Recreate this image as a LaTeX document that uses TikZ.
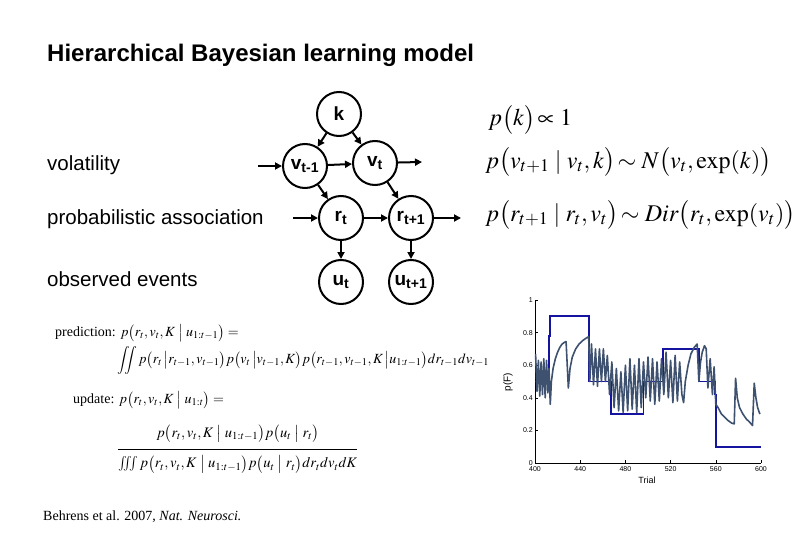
\documentclass[tikz,border=0pt]{standalone}
\usepackage{amsmath}
\usepackage{mathptmx}
\usepackage[no-math]{fontspec}
\setmainfont{Liberation Serif}
\newfontfamily\arialf{Liberation Sans}
\usetikzlibrary{arrows.meta}
\definecolor{stepblue}{RGB}{20,20,160}
\definecolor{estgray}{RGB}{62,82,112}
\begin{document}
\begin{tikzpicture}[x=1pt,y=-1pt,
  gnode/.style={circle,draw,line width=2pt,minimum size=44pt,inner sep=0pt,font=\arialf\bfseries\fontsize{19}{22}\selectfont},
  arr/.style={line width=2pt,-{Triangle[length=7pt,width=7pt]}},
  rowlabel/.style={anchor=base west,font=\arialf\fontsize{20.5}{24}\selectfont,inner sep=0pt},
  bigeq/.style={anchor=west,inner sep=0pt,font=\fontsize{24}{29}\selectfont},
  smalleq/.style={anchor=west,inner sep=0pt,font=\fontsize{14}{17}\selectfont},
  ticklab/.style={font=\arialf\fontsize{7}{8}\selectfont,inner sep=1pt}]
\useasboundingbox (0,0) rectangle (810,540);
\fill[white] (0,0) rectangle (810,540);

% title
\node[anchor=base west,inner sep=0pt,font=\arialf\bfseries\fontsize{24}{28}\selectfont] (title) at (47,62) {Hierarchical Bayesian learning model};

% row labels
\node[rowlabel] (lvol) at (47,171) {volatility};
\node[rowlabel] (lprob) at (47,224) {probabilistic association};
\node[rowlabel] (lobs) at (47,286) {observed events};

% graph nodes
\node[gnode] (k) at (339,114) {k};
\node[gnode] (v1) at (305,166) {v\textsubscript{t-1}};
\node[gnode] (v2) at (375,163) {v\textsubscript{t}};
\node[gnode] (r1) at (341,218) {r\textsubscript{t}};
\node[gnode] (r2) at (411,218) {r\textsubscript{t+1}};
\node[gnode] (u1) at (341,282) {u\textsubscript{t}};
\node[gnode] (u2) at (411,282) {u\textsubscript{t+1}};
\coordinate (vin) at (258,166);
\coordinate (vout) at (422,162);
\coordinate (rin) at (293,218);
\coordinate (rout) at (461,218);

\draw[arr] (k) -- (v1);
\draw[arr] (k) -- (v2);
\draw[arr] (vin) -- (v1);
\draw[arr] (v1) -- (v2);
\draw[arr] (v2) -- (vout);
\draw[arr] (v1) -- (r1);
\draw[arr] (v2) -- (r2);
\draw[arr] (rin) -- (r1);
\draw[arr] (r1) -- (r2);
\draw[arr] (r2) -- (rout);
\draw[arr] (r1) -- (u1);
\draw[arr] (r2) -- (u2);

% right equations
\node[bigeq] (e1) at (488,120) {$p\bigl(k\bigr)\!\propto 1$};
\node[bigeq] (e2) at (485,162) {$p\bigl(v_{t+1}\mid v_t, k\bigr)\!\sim N\bigl(v_t, \exp(k)\bigr)$};
\node[bigeq] (e3) at (485,215) {$p\bigl(r_{t+1}\mid r_t, v_t\bigr)\!\sim \mathit{Dir}\bigl(r_t, \exp(v_t)\bigr)$};

% lower equations
\node[smalleq] (pred) at (55,333) {prediction: $p\bigl(r_t, v_t, K \bigm| u_{1:t-1}\bigr)=$};
\node[smalleq] (predint) at (117,360) {$\displaystyle\iint p\bigl(r_t \,\big| r_{t-1}, v_{t-1}\bigr) p\bigl(v_t \,\big| v_{t-1}, K\bigr) p\bigl(r_{t-1}, v_{t-1}, K \,\big| u_{1:t-1}\bigr) dr_{t-1} dv_{t-1}$};
\node[smalleq] (upd) at (73,400) {update: $p\bigl(r_t, v_t, K \bigm| u_{1:t}\bigr)=$};
\node[smalleq,font=\fontsize{14.6}{18}\selectfont] (updfrac) at (117,449) {$\displaystyle\frac{p\bigl(r_t, v_t, K \bigm| u_{1:t-1}\bigr) p\bigl(u_t \bigm| r_t\bigr)\vphantom{\Big|}}{\iiint p\bigl(r_t, v_t, K \bigm| u_{1:t-1}\bigr) p\bigl(u_t \bigm| r_t\bigr) dr_t dv_t dK\vphantom{\Big|}}$};

% citation
\node[anchor=base west,inner sep=0pt,font=\fontsize{14}{16}\selectfont] (cite) at (43,520) {Behrens et al. 2007, \textit{Nat. Neurosci.}};

% plot
\begin{scope}[shift={(535pt,-463pt)},x=1.13pt,y=163pt]
  \draw[line width=0.8pt] (0,1) -- (0,0) -- (200,0);
  \foreach \v in {0,0.2,0.4,0.6,0.8,1} \draw[line width=0.6pt] (0,\v) -- ++(3pt,0);
  \foreach \t in {0,40,80,120,160,200} \draw[line width=0.6pt] (\t,0) -- ++(0,3pt);
  \foreach \v/\l in {0/0,0.2/0.2,0.4/0.4,0.6/0.6,0.8/0.8,1/1}
    \node[ticklab,anchor=east] at ([xshift=-1pt]0,\v) {\l};
  \foreach \t/\l in {0/400,40/440,80/480,120/520,160/560,200/600}
    \node[ticklab,anchor=north] at ([yshift=-2pt]\t,0) {\l};
  \draw[stepblue,line width=1.8pt] (0,0.5) -- (12.4,0.5) -- (12.4,0.78) -- (13,0.78) -- (13,0.9) -- (48,0.9) -- (48,0.5) -- (67,0.5) -- (67,0.3) -- (96,0.3) -- (96,0.5) -- (113,0.5) -- (113,0.7) -- (145,0.7) -- (145,0.5) -- (159.5,0.5) -- (159.5,0.42) -- (160.5,0.42) -- (160.5,0.1) -- (200,0.1);
  \draw[estgray,line width=1.6pt,line join=round] plot coordinates {
    (0.5,0.67)(1.8,0.44)(3,0.63)(4.2,0.41)(5.4,0.62)(6.6,0.42)(7.8,0.64)(9,0.40)(10.2,0.63)(11.4,0.43)(12.4,0.58)(13.5,0.36)
    (14.5,0.5)(16,0.58)(18,0.64)(20,0.68)(22,0.71)(24,0.73)(26,0.74)(27.5,0.745)(29.5,0.46)(31,0.58)(33,0.65)(36,0.70)(39,0.73)(42,0.75)(45,0.765)(47.5,0.775)
    (48.5,0.5)(50,0.73)(51.8,0.48)(53.5,0.70)(55.3,0.47)(57,0.70)(58.8,0.50)(60.5,0.70)(62.3,0.50)(64,0.66)(66,0.42)(68,0.62)(70,0.34)(72,0.58)(74,0.32)(76,0.56)(78,0.31)(80,0.60)(82,0.32)(84,0.64)(86,0.33)(88,0.60)(90,0.31)(92,0.64)(94,0.34)(96,0.62)
    (98,0.40)(100,0.65)(102,0.38)(104,0.64)(106,0.36)(108,0.62)(110,0.38)(112,0.64)
    (114,0.42)(116,0.68)(118,0.40)(120,0.63)(122,0.37)(124,0.66)(126,0.38)(128,0.62)(130,0.42)(131.5,0.37)(133,0.5)(135.5,0.6)(138,0.67)(141,0.71)(143.5,0.73)
    (145,0.5)(146.5,0.62)(148,0.68)(150,0.72)(151.5,0.70)(153,0.46)(155,0.64)(157,0.42)(158.5,0.59)(160,0.36)
    (162,0.34)(165,0.30)(168,0.28)(171,0.26)(174,0.245)(176.3,0.24)(177.5,0.52)(179,0.40)(181,0.34)(184,0.30)(187,0.27)(190,0.25)(192.5,0.23)(194,0.49)(195.5,0.40)(197,0.34)(199,0.30)};
\end{scope}
\node[font=\arialf\fontsize{9}{10}\selectfont,inner sep=0pt] (xlab) at (647,480) {Trial};
\node[font=\arialf\fontsize{10}{12}\selectfont,inner sep=0pt,rotate=90] (ylab) at (508,382) {p(F)};
\end{tikzpicture}
\end{document}
